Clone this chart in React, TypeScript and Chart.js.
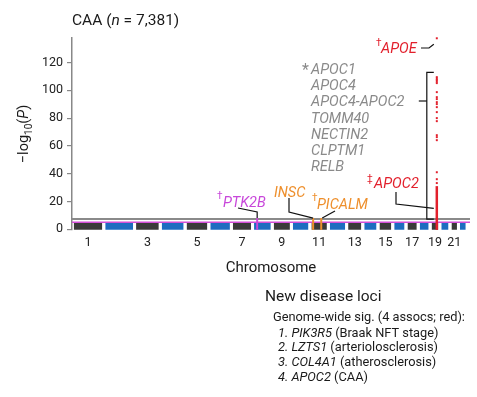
import React, { useEffect, useRef } from "react";
import { Chart, registerables } from "chart.js";
Chart.register(...registerables);

// ---------- data ----------
const chromosomes = ["1","2","3","4","5","6","7","8","9","10","11","12","13","14","15","16","17","18","19","20","21","22"];
const chromLengthsMb = [249,243,198,191,181,171,159,146,141,136,135,134,115,107,103,90,81,78,59,63,48,51];
const gapMb = 25.5;
const tickChromosomes = ["1","3","5","7","9","11","13","15","17","19","21"];
const yTicks = [0, 20, 40, 60, 80, 100, 120];
const backgroundTop = 4.4;      // dense cloud of sub-threshold variants
const backgroundBottom = -0.5;
const genomeWideThreshold = 7.3; // -log10(5e-8)
const suggestiveThreshold = 5;   // -log10(1e-5)

const highlightGenes = ["PTK2B", "INSC", "PICALM"];
const highlightChrom = ["8", "11", "11"];
const highlightPosMb = [27.3, 15.1, 85.7];
const highlightPeak = [8, 8, 8];

const apocChrom = "19";
const apocPosMb = 45.4;
const apocSignals = [137.5, 109.5, 108.4, 107.4, 106.3, 105.2, 98.7, 95.1, 93.7, 91.5, 90.1, 87.9, 84.3, 80, 77.8, 67.7, 66.3, 64.1, 41, 36, 33.2];
const apocSolidTop = 31;

// ---------- style ----------
const FONT = "Roboto, 'Liberation Sans', sans-serif";
const DARK = "#3a3a3a";
const BLUE = "#1d6cc0";
const RED = "#e2202c";
const MAGENTA = "#c847da";
const ORANGE = "#ee8f2c";
const GRAYTXT = "#8a8a8a";
const highlightColors = [MAGENTA, ORANGE, ORANGE];

type Run = { t: string; italic?: boolean; size: number; color?: string; dy?: number };

function drawRuns(ctx: CanvasRenderingContext2D, x: number, y: number, runs: Run[], align: "left" | "center" = "left") {
  let total = 0;
  const widths = runs.map((r) => {
    ctx.font = `${r.italic ? "italic " : ""}${r.size}px ${FONT}`;
    const w = ctx.measureText(r.t).width;
    total += w;
    return w;
  });
  let cx = align === "center" ? x - total / 2 : x;
  runs.forEach((r, i) => {
    ctx.font = `${r.italic ? "italic " : ""}${r.size}px ${FONT}`;
    ctx.fillStyle = r.color || "#1a1a1a";
    ctx.fillText(r.t, cx, y + (r.dy || 0));
    cx += widths[i];
  });
}

export default function App() {
  const ref = useRef<HTMLCanvasElement>(null);

  useEffect(() => {
    const canvas = ref.current!;
    const starts: number[] = [];
    let acc = 0;
    chromLengthsMb.forEach((len, i) => {
      starts.push(acc + i * gapMb);
      acc += len;
    });
    const genomePos = (chrom: string, mb: number) => starts[chromosomes.indexOf(chrom)] + mb;
    const tickPositions = tickChromosomes.map((c) => {
      const i = chromosomes.indexOf(c);
      return starts[i] + chromLengthsMb[i] / 2;
    });
    const lastI = chromosomes.length - 1;
    const xMin = -15;
    const xMax = starts[lastI] + chromLengthsMb[lastI] + 37;

    const datasets: any[] = [];
    chromLengthsMb.forEach((len, i) => {
      datasets.push({
        type: "line",
        data: [
          { x: starts[i], y: backgroundTop },
          { x: starts[i] + len, y: backgroundTop },
        ],
        borderColor: "transparent",
        borderWidth: 0,
        pointRadius: 0,
        fill: { value: backgroundBottom },
        backgroundColor: i % 2 === 0 ? DARK : BLUE,
        order: 10,
      });
    });
    datasets.push({
      type: "line",
      data: [{ x: xMin, y: suggestiveThreshold }, { x: xMax, y: suggestiveThreshold }],
      borderColor: "#d24fd8",
      borderWidth: 1.3,
      pointRadius: 0,
      fill: false,
      order: 8,
    });
    datasets.push({
      type: "line",
      data: [{ x: xMin, y: genomeWideThreshold }, { x: xMax, y: genomeWideThreshold }],
      borderColor: "#8a8a8a",
      borderWidth: 2,
      pointRadius: 0,
      fill: false,
      order: 7,
    });
    highlightGenes.forEach((g, i) => {
      const x = genomePos(highlightChrom[i], highlightPosMb[i]);
      datasets.push({
        type: "line",
        data: [{ x, y: backgroundBottom }, { x, y: highlightPeak[i] }],
        borderColor: highlightColors[i],
        borderWidth: 2,
        pointRadius: 0,
        fill: false,
        order: 5,
      });
    });
    const apocX = genomePos(apocChrom, apocPosMb);
    datasets.push({
      type: "line",
      data: [{ x: apocX, y: backgroundBottom }, { x: apocX, y: apocSolidTop }],
      borderColor: RED,
      borderWidth: 2.5,
      pointRadius: 0,
      fill: false,
      order: 3,
    });
    datasets.push({
      type: "scatter",
      data: apocSignals.map((y) => ({ x: apocX, y })),
      pointStyle: "rect",
      pointRadius: 1.4,
      backgroundColor: RED,
      borderWidth: 0,
      clip: false,
      order: 2,
    });

    const annotations = {
      id: "annotations",
      afterDatasetsDraw(chart: any) {
        const ctx: CanvasRenderingContext2D = chart.ctx;
        const xs = chart.scales.x;
        const ys = chart.scales.y;
        const px = (v: number) => xs.getPixelForValue(v);
        const py = (v: number) => ys.getPixelForValue(v);
        ctx.save();
        ctx.strokeStyle = "#111";
        ctx.lineWidth = 1.2;
        const poly = (pts: number[][]) => {
          ctx.beginPath();
          pts.forEach((p, i) => (i === 0 ? ctx.moveTo(p[0], p[1]) : ctx.lineTo(p[0], p[1])));
          ctx.stroke();
        };
        const ax = px(apocX);
        // APOE connector
        poly([[421, 48], [429, 48], [ax - 3, py(apocSignals[0]) + 6]]);
        // bracket for APOC cluster
        const bx = ax - 10;
        poly([[ax - 3, py(113)], [bx, py(113)], [bx, py(genomeWideThreshold)], [ax - 3, py(genomeWideThreshold)]]);
        poly([[bx - 8, 101], [bx, 101]]);
        // APOC2
        poly([[396, 192], [396, 204], [ax - 3, py(15)]]);
        // PTK2B
        const p0 = px(genomePos(highlightChrom[0], highlightPosMb[0]));
        poly([[238, 208], [p0, 212], [p0, py(highlightPeak[0])]]);
        // INSC
        const p1 = px(genomePos(highlightChrom[1], highlightPosMb[1]));
        poly([[289, 198], [289, 212], [p1, py(highlightPeak[1])]]);
        // PICALM
        const p2 = px(genomePos(highlightChrom[2], highlightPosMb[2]));
        poly([[335, 211], [p2 + 1, py(highlightPeak[2])]]);

        ctx.textBaseline = "alphabetic";
        // APOE
        drawRuns(ctx, 376, 46, [{ t: "\u2020", size: 10, color: RED }]);
        drawRuns(ctx, 381, 53, [{ t: "APOE", italic: true, size: 14.5, color: RED }]);
        // gray list
        drawRuns(ctx, 302, 75, [{ t: "*", size: 16, color: GRAYTXT }]);
        ["APOC1", "APOC4", "APOC4-APOC2", "TOMM40", "NECTIN2", "CLPTM1", "RELB"].forEach((g, i) => {
          drawRuns(ctx, 311, 74 + 16.2 * i, [{ t: g, italic: true, size: 14.5, color: GRAYTXT }]);
        });
        // APOC2
        drawRuns(ctx, 367, 182, [{ t: "\u2021", size: 10, color: RED }]);
        drawRuns(ctx, 374, 188, [{ t: "APOC2", italic: true, size: 14.5, color: RED }]);
        // PTK2B
        drawRuns(ctx, 217, 199, [{ t: "\u2020", size: 10, color: MAGENTA }]);
        drawRuns(ctx, 223, 207, [{ t: "PTK2B", italic: true, size: 14.5, color: MAGENTA }]);
        // INSC
        drawRuns(ctx, 274, 197, [{ t: "INSC", italic: true, size: 14.5, color: ORANGE }]);
        // PICALM
        drawRuns(ctx, 312, 201, [{ t: "\u2020", size: 10, color: ORANGE }]);
        drawRuns(ctx, 317, 209, [{ t: "PICALM", italic: true, size: 14.5, color: ORANGE }]);
        ctx.restore();
      },
      afterDraw(chart: any) {
        const ctx: CanvasRenderingContext2D = chart.ctx;
        const area = chart.chartArea;
        ctx.save();
        ctx.textBaseline = "alphabetic";
        // title
        drawRuns(ctx, 72, 25, [
          { t: "CAA (", size: 15.5 },
          { t: "n", italic: true, size: 15.5 },
          { t: " = 7,381)", size: 15.5 },
        ]);
        // x title
        drawRuns(ctx, (area.left + area.right) / 2, 272, [{ t: "Chromosome", size: 15 }], "center");
        // y title
        ctx.save();
        ctx.translate(28, 134);
        ctx.rotate(-Math.PI / 2);
        drawRuns(ctx, 0, 0, [
          { t: "\u2212log", size: 14.5 },
          { t: "10", size: 10, dy: 3.5 },
          { t: "(", size: 14.5 },
          { t: "P", italic: true, size: 14.5 },
          { t: ")", size: 14.5 },
        ], "center");
        ctx.restore();
        // New disease loci block
        drawRuns(ctx, 265, 301, [{ t: "New disease loci", size: 15.5 }]);
        drawRuns(ctx, 273, 321, [{ t: "Genome-wide sig. (4 assocs; red):", size: 12.8 }]);
        const items: [string, string][] = [
          ["1. PIK3R5", " (Braak NFT stage)"],
          ["2. LZTS1", " (arteriolosclerosis)"],
          ["3. COL4A1", " (atherosclerosis)"],
          ["4. APOC2", " (CAA)"],
        ];
        items.forEach((it, i) => {
          drawRuns(ctx, 278, 336.5 + 14.7 * i, [
            { t: it[0], italic: true, size: 12.8 },
            { t: it[1], size: 12.8 },
          ]);
        });
        ctx.restore();
      },
    };

    const chart = new Chart(canvas, {
      type: "line",
      data: { datasets },
      options: {
        animation: false,
        responsive: false,
        events: [],
        layout: { padding: { left: 0, right: 7, top: 38, bottom: 397 - 230 - 40 } },
        plugins: { legend: { display: false }, tooltip: { enabled: false }, title: { display: false } },
        scales: {
          x: {
            type: "linear",
            min: xMin,
            max: xMax,
            grid: { display: false, drawTicks: false },
            border: { display: false },
            afterFit: (s: any) => { s.height = 40; },
            afterBuildTicks: (axis: any) => { axis.ticks = tickPositions.map((v) => ({ value: v })); },
            ticks: {
              autoSkip: false,
              maxRotation: 0,
              padding: 5,
              color: "#222",
              font: { family: FONT, size: 12.5 },
              callback: (_v: any, i: number) => tickChromosomes[i],
            },
          },
          y: {
            type: "linear",
            min: -0.6,
            max: 137.7,
            grid: { display: true, drawOnChartArea: false, drawTicks: true, tickLength: 5, color: "#888", lineWidth: 1.2 },
            border: { display: true, color: "#888", width: 1.5 },
            afterFit: (s: any) => { s.width = 72; },
            afterBuildTicks: (axis: any) => { axis.ticks = yTicks.map((v) => ({ value: v })); },
            ticks: {
              padding: 4,
              color: "#222",
              font: { family: FONT, size: 12.5 },
            },
          },
        },
      },
      plugins: [annotations],
    } as any);
    return () => chart.destroy();
  }, []);

  return (
    <div style={{ position: "fixed", left: 0, top: 0, width: 477, height: 397, background: "#fff" }}>
      <canvas ref={ref} width={477} height={397} style={{ width: 477, height: 397, display: "block" }} />
    </div>
  );
}
